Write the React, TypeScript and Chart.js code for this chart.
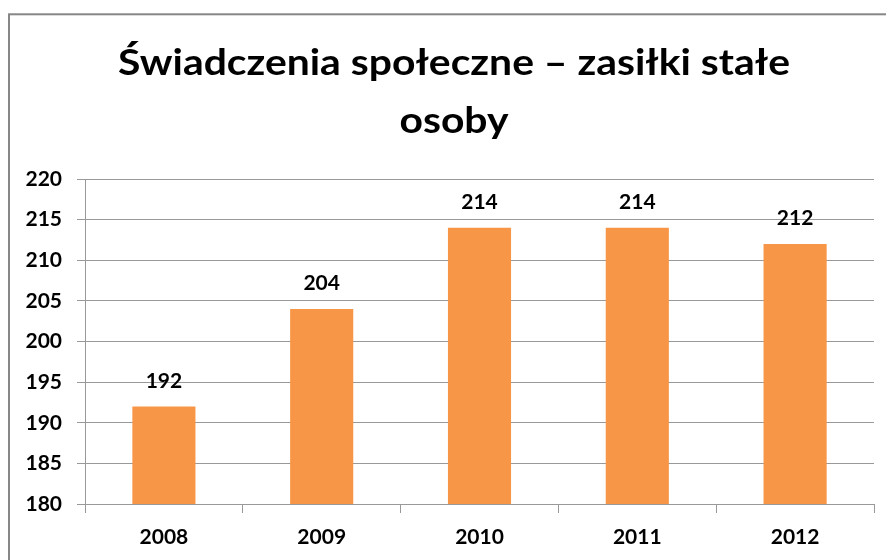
import React, { useEffect, useRef } from "react";
import { Chart, registerables } from "chart.js";

Chart.register(...registerables);

const titleLines = ["Świadczenia społeczne – zasiłki stałe", "osoby"];
const categories = ["2008", "2009", "2010", "2011", "2012"];
const values = [192, 204, 214, 214, 212];
const yMin = 180;
const yMax = 220;
const yStep = 5;

const FONT = "Lato, 'Open Sans', sans-serif";

const framePlugin = {
  id: "frame",
  beforeDraw(chart: any) {
    const ctx = chart.ctx;
    ctx.save();
    ctx.strokeStyle = "#878787";
    ctx.lineWidth = 2;
    ctx.strokeRect(9, 14.3, 920, 620);
    ctx.restore();
  },
};

const titlePlugin = {
  id: "customTitle",
  afterDraw(chart: any) {
    const ctx = chart.ctx;
    ctx.save();
    ctx.fillStyle = "#000";
    ctx.font = `bold 36px ${FONT}`;
    ctx.textAlign = "center";
    ctx.textBaseline = "alphabetic";
    const w = ctx.measureText(titleLines[0]).width;
    const sx = 672 / w;
    ctx.translate(454, 0);
    ctx.scale(sx, 1);
    ctx.fillText(titleLines[0], 0, 75);
    ctx.fillText(titleLines[1], 0, 133);
    ctx.restore();
  },
};

const labelPlugin = {
  id: "barLabels",
  afterDatasetsDraw(chart: any) {
    const ctx = chart.ctx;
    const meta = chart.getDatasetMeta(0);
    ctx.save();
    ctx.fillStyle = "#000";
    ctx.font = `bold 21px ${FONT}`;
    ctx.textAlign = "center";
    ctx.textBaseline = "alphabetic";
    meta.data.forEach((bar: any, i: number) => {
      ctx.fillText(String(values[i]), bar.x, bar.y - 19);
    });
    ctx.restore();
  },
};

export default function App() {
  const ref = useRef<HTMLCanvasElement>(null);
  useEffect(() => {
    if (!ref.current) return;
    const chart = new Chart(ref.current, {
      type: "bar",
      data: {
        labels: categories,
        datasets: [
          {
            data: values,
            backgroundColor: "#F79646",
            borderWidth: 0,
            categoryPercentage: 1,
            barPercentage: 0.4,
          },
        ],
      },
      options: {
        animation: false,
        responsive: false,
        devicePixelRatio: 1,
        layout: { padding: { left: 0, right: 12, top: 179, bottom: 0 } },
        plugins: {
          legend: { display: false },
          title: { display: false },
          tooltip: { enabled: false },
        },
        scales: {
          x: {
            grid: {
              display: true,
              drawOnChartArea: false,
              drawTicks: true,
              tickLength: 9,
              color: "#999",
              offset: true,
            },
            border: { display: true, color: "#999", width: 1 },
            ticks: {
              color: "#000",
              font: { family: FONT, size: 21, weight: "bold" },
              padding: 12,
            },
            afterFit(scale: any) {
              scale.height = 56;
            },
          },
          y: {
            min: yMin,
            max: yMax,
            grid: {
              color: "#999",
              tickLength: 8,
              drawTicks: true,
            },
            border: { display: true, color: "#999", width: 1 },
            ticks: {
              stepSize: yStep,
              color: "#000",
              font: { family: FONT, size: 21, weight: "bold" },
              padding: 15,
            },
            afterFit(scale: any) {
              scale.width = 85;
            },
          },
        },
      },
      plugins: [framePlugin, titlePlugin, labelPlugin],
    });
    return () => chart.destroy();
  }, []);
  return (
    <div style={{ position: "absolute", left: 0, top: 0, width: 886, height: 560 }}>
      <canvas ref={ref} width={886} height={560} style={{ width: 886, height: 560, display: "block" }} />
    </div>
  );
}
